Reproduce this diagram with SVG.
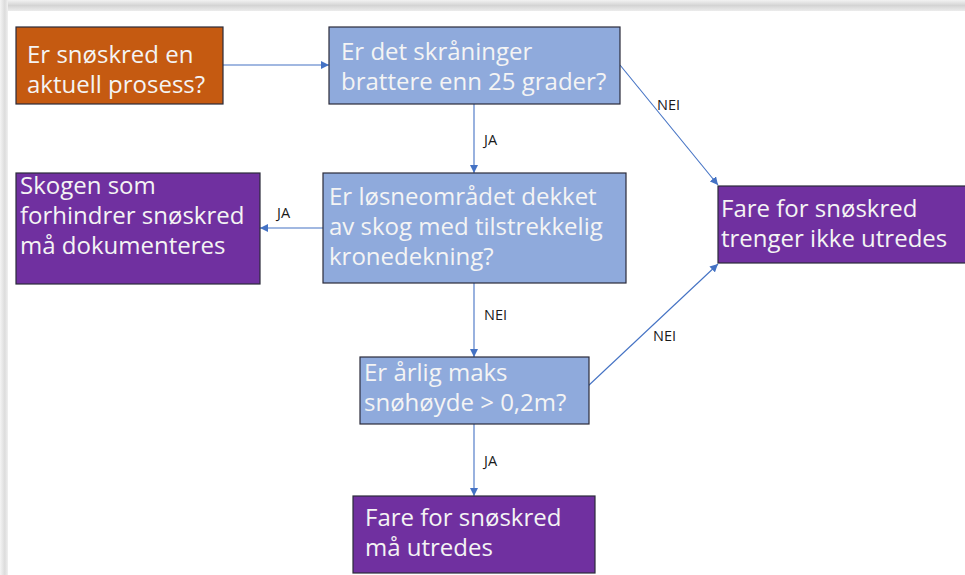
<svg xmlns="http://www.w3.org/2000/svg" width="965" height="575" viewBox="0 0 965 575">
  <defs>
    <linearGradient id="gTop" x1="0" y1="0" x2="0" y2="1">
      <stop offset="0" stop-color="#f2f2f2"/>
      <stop offset="0.5" stop-color="#d4d4d4"/>
      <stop offset="1" stop-color="#ececec"/>
    </linearGradient>
    <linearGradient id="gLeft" x1="0" y1="0" x2="1" y2="0">
      <stop offset="0" stop-color="#f4f4f4"/>
      <stop offset="0.6" stop-color="#dcdcdc"/>
      <stop offset="1" stop-color="#f0f0f0"/>
    </linearGradient>
    <marker id="arr" viewBox="0 0 10 10" refX="10" refY="5" markerWidth="8" markerHeight="8" markerUnits="userSpaceOnUse" orient="auto">
      <path d="M0,0 L10,5 L0,10 z" fill="#4472C4"/>
    </marker>
    <style>
      .box { stroke: #2b2b3a; stroke-width: 1.2; }
      .orange { fill: #C55A11; }
      .blue { fill: #8FAADC; }
      .purple { fill: #7030A0; }
      .t { font-family: "Open Sans", "Noto Sans", "Liberation Sans", sans-serif; font-size: 24px; fill: #F4F4F4; }
      .lbl { font-family: "Open Sans", "Noto Sans", "Liberation Sans", sans-serif; font-size: 14.5px; fill: #1a1a1a; }
      .c { stroke: #4472C4; stroke-width: 1.1; fill: none; marker-end: url(#arr); }
    </style>
  </defs>
  <rect x="0" y="0" width="965" height="575" fill="#ffffff"/>
  <rect x="0" y="0" width="965" height="11" fill="url(#gTop)"/>
  <rect x="0" y="0" width="8" height="575" fill="url(#gLeft)"/>

  <g id="connectors">
    <line class="c" x1="223" y1="65" x2="329" y2="65"/>
    <line class="c" x1="474" y1="104" x2="474" y2="173"/>
    <line class="c" x1="620" y1="65" x2="718" y2="185"/>
    <line class="c" x1="323" y1="228" x2="260" y2="228"/>
    <line class="c" x1="474" y1="283" x2="474" y2="357"/>
    <line class="c" x1="588" y1="386" x2="718" y2="264"/>
    <line class="c" x1="474" y1="424" x2="474" y2="496"/>
    <text class="lbl" x="484" y="145">JA</text>
    <text class="lbl" x="657" y="110">NEI</text>
    <text class="lbl" x="277" y="218">JA</text>
    <text class="lbl" x="484" y="320">NEI</text>
    <text class="lbl" x="653" y="341">NEI</text>
    <text class="lbl" x="484" y="466">JA</text>
  </g>

  <g id="start">
    <rect class="box orange" x="16" y="27" width="207" height="77"/>
    <text class="t" x="27" y="63">Er snøskred en</text>
    <text class="t" x="27" y="93">aktuell prosess?</text>
  </g>

  <g id="q1">
    <rect class="box blue" x="329" y="27" width="291" height="77"/>
    <text class="t" x="341" y="60">Er det skråninger</text>
    <text class="t" x="341" y="90">brattere enn 25 grader?</text>
  </g>

  <g id="q2">
    <rect class="box blue" x="323" y="173" width="303" height="110"/>
    <text class="t" x="329" y="205">Er løsneområdet dekket</text>
    <text class="t" x="329" y="235">av skog med tilstrekkelig</text>
    <text class="t" x="329" y="265">kronedekning?</text>
  </g>

  <g id="q3">
    <rect class="box blue" x="360" y="357" width="229" height="67"/>
    <text class="t" x="364" y="381">Er årlig maks</text>
    <text class="t" x="364" y="411">snøhøyde &gt; 0,2m?</text>
  </g>

  <g id="skog">
    <rect class="box purple" x="16" y="173" width="244" height="111"/>
    <text class="t" x="20" y="194">Skogen som</text>
    <text class="t" x="20" y="224">forhindrer snøskred</text>
    <text class="t" x="20" y="254">må dokumenteres</text>
  </g>

  <g id="ikke">
    <rect class="box purple" x="718" y="186" width="250" height="77"/>
    <text class="t" x="721" y="217">Fare for snøskred</text>
    <text class="t" x="721" y="247">trenger ikke utredes</text>
  </g>

  <g id="utredes">
    <rect class="box purple" x="353" y="496" width="242" height="77"/>
    <text class="t" x="365" y="526">Fare for snøskred</text>
    <text class="t" x="365" y="556">må utredes</text>
  </g>
</svg>
